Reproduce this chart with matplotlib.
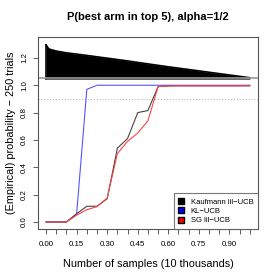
import matplotlib
matplotlib.use("Agg")
import matplotlib.pyplot as plt
import numpy as np
from matplotlib.patches import Patch

plt.rcParams['font.family'] = ['Liberation Sans', 'DejaVu Sans']

# sample sizes (10 thousands)
samples = [0.00, 0.05, 0.10, 0.15, 0.20, 0.25, 0.30, 0.35, 0.40, 0.45, 0.50,
           0.55, 0.60, 0.65, 0.70, 0.75, 0.80, 0.85, 0.90, 0.95, 1.00]
kaufmann = [0.0, 0.0, 0.0, 0.06, 0.115, 0.115, 0.17, 0.54, 0.61, 0.80, 0.815,
            0.99, 0.995, 0.996, 0.996, 0.996, 0.996, 0.996, 0.996, 0.996, 0.996]
kl_ucb = [0.0, 0.0, 0.0, 0.06, 0.97, 1.0, 1.0, 1.0, 1.0, 1.0, 1.0,
          1.0, 1.0, 1.0, 1.0, 1.0, 1.0, 1.0, 1.0, 1.0, 1.0]
sg_ucb = [0.0, 0.0, 0.0, 0.05, 0.09, 0.112, 0.175, 0.50, 0.59, 0.65, 0.74,
          0.99, 0.995, 0.996, 0.996, 0.996, 0.996, 0.996, 0.996, 0.996, 0.996]

# black profile drawn above the 1.05 line
profile_x = [0.00, 0.01, 0.02, 0.05, 0.10, 0.20, 0.30, 0.40, 0.50, 0.60, 0.70, 0.80, 0.90, 1.00]
profile_y = [1.295, 1.272, 1.262, 1.25, 1.237, 1.218, 1.198, 1.178, 1.156, 1.135, 1.115, 1.095, 1.075, 1.055]

tick_pos = np.round(np.arange(0, 1.0001, 0.05), 2)
tick_lab = [f"{t:.2f}" if i % 3 == 0 else "" for i, t in enumerate(tick_pos)]

fig = plt.figure(figsize=(2.77, 2.77), dpi=100)
ax = fig.add_axes([0.137, 0.173, 0.794, 0.693])

base = 1.045
ax.fill_between(profile_x, base, profile_y, color='black', lw=0)
ax.plot(profile_x, profile_y, color='black', lw=1.2)
ax.plot([0, 0], [base, profile_y[0]], color='black', lw=1.2)
ax.axhline(1.05, color='#999999', lw=1.2)
ax.axhline(0.9, color='#aaaaaa', lw=0.7, ls=(0, (1, 2)))

ax.plot(samples, kl_ucb, color='#5555ff', lw=0.8)
ax.plot(samples, kaufmann, color='#444444', lw=0.8)
ax.plot(samples, sg_ucb, color='#ff4444', lw=0.8)

ax.set_xlim(-0.04, 1.04)
ax.set_ylim(-0.052, 1.352)
ax.set_xticks(tick_pos)
ax.set_xticklabels(tick_lab)
ax.set_yticks([0.0, 0.2, 0.4, 0.6, 0.8, 1.0, 1.2])
ax.set_yticklabels(['0.0', '0.2', '0.4', '0.6', '0.8', '1.0', '1.2'], rotation=90, va='center')
ax.tick_params(axis='both', labelsize=5.7, length=3.5, width=0.6, color='#444444')
ax.tick_params(axis='x', pad=5)
ax.tick_params(axis='y', pad=3.5)
for s in ax.spines.values():
    s.set_color('#555555')
    s.set_linewidth(0.8)

ax.set_title('P(best arm in top 5), alpha=1/2', fontsize=8, fontweight='bold', pad=12)
ax.set_xlabel('Number of samples (10 thousands)', fontsize=7.8, labelpad=8)
ax.set_ylabel('(Empirical) probability \u2212 250 trials', fontsize=7.8, labelpad=4)

handles = [Patch(facecolor='black', edgecolor='black'),
           Patch(facecolor='#0000ff', edgecolor='black'),
           Patch(facecolor='#ff0000', edgecolor='black')]
leg = ax.legend(handles, ['Kaufmann lil\u2212UCB', 'KL\u2212UCB', 'SG lil\u2212UCB'],
                loc='lower right', fontsize=5.5, borderaxespad=0, fancybox=False,
                handlelength=0.8, handleheight=0.8, labelspacing=0.25, borderpad=0.6,
                handletextpad=0.8)
leg.get_frame().set_edgecolor('#555555')
leg.get_frame().set_linewidth(0.8)

fig.savefig('out.png', dpi=100)
